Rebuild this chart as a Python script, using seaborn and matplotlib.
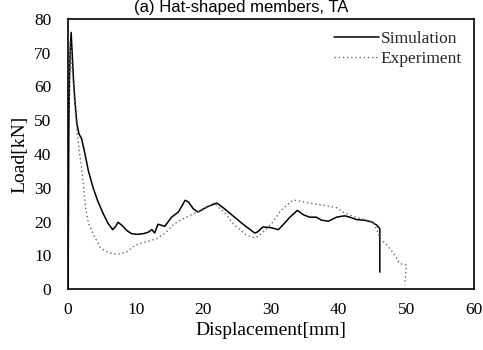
import matplotlib
matplotlib.use("Agg")
import matplotlib.pyplot as plt
import seaborn as sns
import pandas as pd

sim_x = [0.0, 0.1, 0.2, 0.3, 0.45, 0.6, 0.8, 1.0, 1.3, 1.6, 2.0, 2.5, 3.0, 3.7, 4.4, 5.2, 5.9, 6.6, 7.0, 7.4, 8.0, 8.7, 9.4, 10.2, 11.1, 11.8, 12.4, 12.8, 13.3, 14.3, 15.3, 16.3, 16.8, 17.3, 17.8, 18.5, 19.2, 20.5, 22.0, 23.0, 24.5, 26.0, 27.6, 28.0, 28.8, 30.0, 31.1, 32.0, 32.8, 33.9, 34.8, 35.7, 36.7, 37.5, 38.5, 39.7, 40.9, 41.8, 42.6, 43.8, 44.9, 45.6, 46.1, 46.1]
sim_y = [0.0, 45.0, 62.0, 70.0, 76.0, 70.0, 62.0, 56.0, 49.0, 46.0, 44.5, 40.0, 35.0, 30.0, 26.0, 22.3, 19.5, 17.6, 18.5, 19.8, 18.8, 17.3, 16.4, 16.2, 16.4, 16.8, 17.6, 16.6, 19.2, 18.6, 21.3, 22.8, 24.5, 26.3, 25.8, 23.8, 22.8, 24.3, 25.5, 24.0, 21.5, 19.0, 16.6, 16.9, 18.4, 18.2, 17.6, 19.5, 21.3, 23.3, 22.0, 21.3, 21.3, 20.4, 20.1, 21.3, 21.7, 21.2, 20.6, 20.4, 19.9, 19.0, 17.9, 5.0]

exp_x = [0.0, 0.1, 0.2, 0.3, 0.5, 0.8, 1.0, 1.3, 1.7, 2.0, 2.3, 2.6, 3.0, 3.7, 4.7, 5.5, 6.5, 7.5, 8.7, 9.9, 11.5, 13.1, 14.5, 15.6, 17.0, 18.5, 20.0, 21.5, 23.0, 24.4, 26.4, 27.5, 28.1, 29.0, 30.1, 31.3, 32.3, 33.3, 34.3, 35.3, 36.7, 38.2, 39.7, 40.9, 42.5, 44.0, 45.1, 45.8, 46.1, 46.8, 47.8, 48.5, 49.0, 50.0, 49.8]
exp_y = [0.0, 40.0, 60.0, 73.0, 68.0, 60.0, 54.0, 47.0, 40.0, 36.0, 30.0, 24.0, 19.5, 16.4, 12.5, 11.2, 10.5, 10.4, 11.0, 13.0, 14.0, 14.9, 16.8, 19.2, 20.8, 22.3, 23.5, 25.5, 23.0, 19.4, 15.9, 15.2, 15.6, 17.2, 19.4, 22.8, 24.8, 26.4, 26.0, 25.6, 25.1, 24.7, 24.1, 22.5, 21.3, 20.5, 19.9, 16.9, 15.0, 13.7, 11.5, 9.5, 7.6, 7.1, 1.2]

x_ticks = [0, 10, 20, 30, 40, 50, 60]
y_ticks = [0, 10, 20, 30, 40, 50, 60, 70, 80]

sns.set_theme(style="white")
plt.rcParams['font.family'] = ['Liberation Serif', 'DejaVu Serif']

fig = plt.figure(figsize=(4.83, 3.5), dpi=100)
ax = fig.add_axes([0.141, 0.174, 0.840, 0.772])

sim = pd.DataFrame({"x": sim_x, "y": sim_y})
exp = pd.DataFrame({"x": exp_x, "y": exp_y})
sns.lineplot(data=sim, x="x", y="y", sort=False, estimator=None, ax=ax,
             color="black", lw=1.1, label="Simulation")
sns.lineplot(data=exp, x="x", y="y", sort=False, estimator=None, ax=ax,
             color="#666666", lw=1.0, linestyle=(0, (1, 2)), label="Experiment")

ax.set_xlim(0, 60)
ax.set_ylim(0, 80)
ax.set_xticks(x_ticks)
ax.set_yticks(y_ticks)
ax.tick_params(axis="both", length=0, labelsize=12.5, colors="black")
ax.tick_params(axis="x", pad=9)
ax.tick_params(axis="y", pad=12)
ax.set_xlabel("Displacement[mm]", fontsize=14, color="black", labelpad=3)
ax.set_ylabel("Load[kN]", fontsize=14, color="black", labelpad=4)
for s in ax.spines.values():
    s.set_color("black")
    s.set_linewidth(1.2)

leg = ax.legend(loc="upper right", frameon=False, fontsize=12.5, handlelength=2.6,
                handletextpad=0.1, labelspacing=0.2, borderaxespad=0.3)

fig.text(0.5, 0.999, "(a) Hat-shaped members, TA", ha="center", va="top",
         fontsize=12, family=["Liberation Sans", "DejaVu Sans"], color="black")

fig.savefig("out.png", dpi=100)
